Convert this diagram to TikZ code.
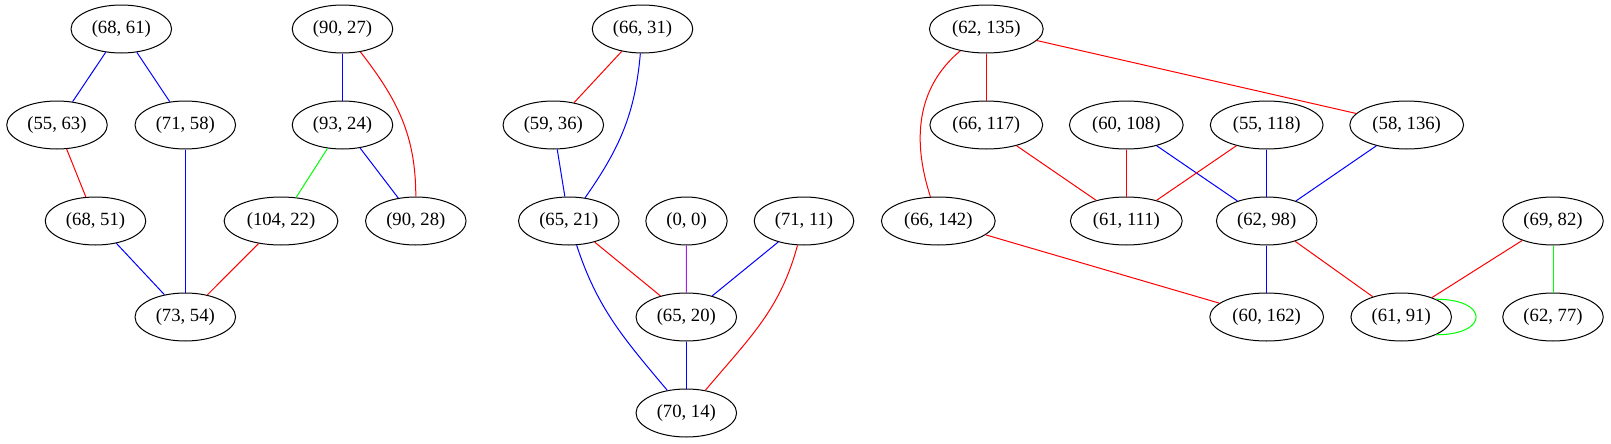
\documentclass[tikz,border=0pt]{standalone}
\usepackage{fontspec}
\setmainfont{Liberation Serif}
\usepackage{tikz}
\usetikzlibrary{
        positioning,
        shapes,
        shapes.geometric
    }
\definecolor{gvred}{HTML}{FF0000}
\definecolor{gvblue}{HTML}{0000FF}
\definecolor{gvgreen}{HTML}{00FF00}
\definecolor{gvpurple}{HTML}{A020F0}
\tikzset{pair/.style={draw,ellipse,line width=0.75pt,inner xsep=4.5pt,
        minimum width=61pt,minimum height=36pt,
        font=\fontsize{14}{16}\selectfont}}
\tikzset{every edge/.append style={line width=0.75pt}}

\begin{document}
\begin{tikzpicture}[x=0.75pt,y=-0.75pt]
                \useasboundingbox (0,0) rectangle (1611,443);
                % first component
                \node[pair] (n68x61) at (121.3,29)  {(68, 61)};
                \node[pair] (n55x63) at (57,125)    {(55, 63)};
                \node[pair] (n71x58) at (185.3,125) {(71, 58)};
                \node[pair] (n68x51) at (95.5,221)  {(68, 51)};
                \node[pair] (n73x54) at (185.3,317) {(73, 54)};
                \node[pair] (n90x27) at (342.5,29)  {(90, 27)};
                \node[pair] (n93x24) at (342.5,125) {(93, 24)};
                \node[pair] (n104x22) at (281,221)  {(104, 22)};
                \node[pair] (n90x28) at (415.8,221) {(90, 28)};
                % second component
                \node[pair] (n66x31) at (642.5,29)  {(66, 31)};
                \node[pair] (n59x36) at (553.3,125) {(59, 36)};
                \node[pair] (n65x21) at (568.8,221) {(65, 21)};
                \node[pair] (n0x0)   at (686.5,221) {(0, 0)};
                \node[pair] (n71x11) at (804,221)   {(71, 11)};
                \node[pair] (n65x20) at (686.3,317) {(65, 20)};
                \node[pair] (n70x14) at (686.3,413) {(70, 14)};
                % third component
                \node[pair] (n62x135) at (986.3,29)  {(62, 135)};
                \node[pair] (n66x117) at (986.3,125) {(66, 117)};
                \node[pair] (n60x108) at (1126.3,125) {(60, 108)};
                \node[pair] (n55x118) at (1266.7,125) {(55, 118)};
                \node[pair] (n58x136) at (1406.7,125) {(58, 136)};
                \node[pair] (n66x142) at (938.3,221) {(66, 142)};
                \node[pair] (n61x111) at (1126.3,221) {(61, 111)};
                \node[pair] (n62x98)  at (1266.7,221) {(62, 98)};
                \node[pair] (n60x162) at (1266.7,317) {(60, 162)};
                \node[pair] (n61x91)  at (1401.2,317) {(61, 91)};
                % fourth component
                \node[pair] (n69x82) at (1553,221) {(69, 82)};
                \node[pair] (n62x77) at (1553,317) {(62, 77)};
                \path
                    (n68x61)  edge [gvblue] (n55x63)
                    (n68x61)  edge [gvblue] (n71x58)
                    (n55x63)  edge [gvred] (n68x51)
                    (n71x58)  edge [gvblue] (n73x54)
                    (n68x51)  edge [gvblue] (n73x54)
                    (n90x27)  edge [gvblue] (n93x24)
                    (n90x27)  edge [gvred, out=-52, in=90] (n90x28)
                    (n93x24)  edge [gvgreen] (n104x22)
                    (n93x24)  edge [gvblue] (n90x28)
                    (n104x22) edge [gvred] (n73x54);
                \path
                    (n66x31)  edge [gvred] (n59x36)
                    (n66x31)  edge [gvblue, out=-95, in=55] (n65x21)
                    (n59x36)  edge [gvblue] (n65x21)
                    (n65x21)  edge [gvred] (n65x20)
                    (n65x21)  edge [gvblue, out=-72, in=130] (n70x14)
                    (n0x0)    edge [gvpurple] (n65x20)
                    (n71x11)  edge [gvblue] (n65x20)
                    (n71x11)  edge [gvred, out=-105, in=50] (n70x14)
                    (n65x20)  edge [gvblue] (n70x14);
                \path
                    (n62x135) edge [gvred] (n66x117)
                    (n62x135) edge [gvred] (n58x136)
                    (n62x135) edge [gvred, out=-140, in=108] (n66x142)
                    (n66x117) edge [gvred] (n61x111)
                    (n60x108) edge [gvred] (n61x111)
                    (n60x108) edge [gvblue] (n62x98)
                    (n55x118) edge [gvred] (n61x111)
                    (n55x118) edge [gvblue] (n62x98)
                    (n58x136) edge [gvblue] (n62x98)
                    (n66x142) edge [gvred] (n60x162)
                    (n62x98)  edge [gvblue] (n60x162)
                    (n62x98)  edge [gvred] (n61x91)
                    (n61x91.27) edge [gvgreen, out=0, in=0, min distance=40pt] (n61x91.-27)
                    (n69x82)  edge [gvred] (n61x91)
                    (n69x82)  edge [gvgreen] (n62x77);
            \end{tikzpicture}
\end{document}
